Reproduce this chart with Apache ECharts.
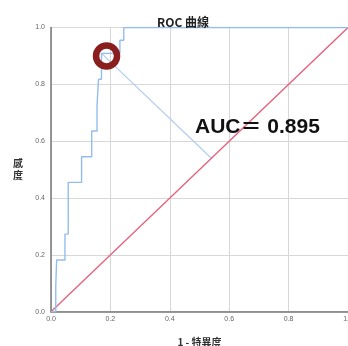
<!DOCTYPE html>
<html>
<head>
<meta charset="utf-8">
<script src="https://cdn.jsdelivr.net/npm/echarts@6/dist/echarts.min.js"></script>
<style>html,body{margin:0;padding:0;background:#fff}#c{width:348px;height:346px}</style>
</head>
<body>
<div id="c"></div>
<script>
var rocX = [0, 0.016, 0.016, 0.019, 0.019, 0.047, 0.047, 0.058, 0.058, 0.103, 0.103, 0.137, 0.137, 0.155, 0.155, 0.160, 0.160, 0.170, 0.170, 0.232, 0.232, 0.245, 0.245, 1.0];
var rocY = [0, 0, 0.091, 0.091, 0.182, 0.182, 0.273, 0.273, 0.455, 0.455, 0.545, 0.545, 0.636, 0.636, 0.727, 0.727, 0.818, 0.818, 0.909, 0.909, 0.955, 0.955, 1.0, 1.0];
var diagX = [0, 1];
var diagY = [0, 1];
var youdenX = [0.170, 0.54];
var youdenY = [0.909, 0.54];
var markerPt = [0.187, 0.9];
var tickLabels = ['0.0', '0.2', '0.4', '0.6', '0.8', '1.0'];
var aucText = 'AUC＝ 0.895';

function zip(a, b) { return a.map(function (v, i) { return [v, b[i]]; }); }
function fmt(v) { return v.toFixed(1); }

var chart = echarts.init(document.getElementById('c'));
chart.setOption({
  animation: false,
  title: {
    text: 'ROC 曲線', left: 178, top: 11, textAlign: 'center',
    textStyle: { fontFamily: 'Noto Sans CJK TC', fontSize: 12, fontWeight: 'bold', color: '#222' }
  },
  grid: { left: 51, right: 0, top: 27.5, bottom: 34.3, containLabel: false, outerBoundsMode: 'none' },
  xAxis: {
    type: 'value', min: 0, max: 1, interval: 0.2,
    name: '1 - 特異度', nameLocation: 'middle', nameGap: 26,
    nameTextStyle: { fontFamily: 'Noto Sans CJK TC', fontSize: 10, fontWeight: 'bold', color: '#333' },
    axisLine: { show: true, lineStyle: { color: '#777', width: 1.5 } },
    axisTick: { show: false },
    axisLabel: { fontSize: 7, color: '#666', margin: 4, formatter: fmt },
    splitLine: { show: true, lineStyle: { color: '#d8d8d8', width: 1 } }
  },
  yAxis: {
    type: 'value', min: 0, max: 1, interval: 0.2,
    name: '感\n度', nameLocation: 'middle', nameGap: 28, nameRotate: 0,
    nameTextStyle: { fontFamily: 'Noto Sans CJK TC', fontSize: 10, fontWeight: 'bold', color: '#333', lineHeight: 12 },
    axisLine: { show: true, lineStyle: { color: '#777', width: 1.5 } },
    axisTick: { show: false },
    axisLabel: { fontSize: 7, color: '#666', margin: 6, formatter: fmt },
    splitLine: { show: true, lineStyle: { color: '#d8d8d8', width: 1 } }
  },
  series: [
    { type: 'line', data: zip(diagX, diagY), showSymbol: false, lineStyle: { color: '#e6607c', width: 1.3 }, z: 3 },
    { type: 'line', data: zip(youdenX, youdenY), showSymbol: false, lineStyle: { color: '#b0cdee', width: 1.2 }, z: 2 },
    { type: 'line', data: zip(rocX, rocY), showSymbol: false, lineStyle: { color: '#93bdee', width: 1.4 }, z: 4 },
    { type: 'scatter', data: [markerPt], symbol: 'circle', symbolSize: 21,
      itemStyle: { color: 'rgba(0,0,0,0)', borderColor: '#8a1e1e', borderWidth: 6.5, opacity: 1 }, z: 6 }
  ],
  graphic: [{
    type: 'text', left: 195, top: 117, z: 10,
    style: { text: aucText, font: 'bold 21px "Liberation Sans", "Noto Sans CJK TC"', fill: '#111' }
  }]
});
</script>
</body>
</html>
